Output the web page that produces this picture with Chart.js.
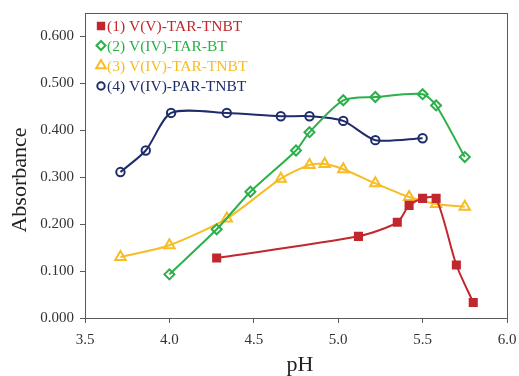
<!DOCTYPE html>
<html><head><meta charset="utf-8">
<script src="https://cdn.jsdelivr.net/npm/chart.js@4/dist/chart.umd.min.js"></script>
<style>html,body{margin:0;padding:0;background:#fff}#wrap{width:519px;height:376px}</style>
</head><body><div id="wrap"><canvas id="c" width="519" height="376"></canvas></div>
<script>
const seriesNames = ['(1) V(V)-TAR-TNBT','(2) V(IV)-TAR-BT','(3) V(IV)-TAR-TNBT','(4) V(IV)-PAR-TNBT'];
const s1pH  = [4.28, 5.12, 5.35, 5.42, 5.50, 5.58, 5.70, 5.80];
const s1Abs = [0.128, 0.174, 0.204, 0.240, 0.255, 0.255, 0.113, 0.033];
const s2pH  = [4.00, 4.28, 4.48, 4.75, 4.83, 5.03, 5.22, 5.50, 5.58, 5.75];
const s2Abs = [0.093, 0.189, 0.269, 0.357, 0.396, 0.464, 0.471, 0.477, 0.453, 0.343];
const s3pH  = [3.71, 4.00, 4.34, 4.66, 4.83, 4.92, 5.03, 5.22, 5.42, 5.58, 5.75];
const s3Abs = [0.130, 0.155, 0.212, 0.297, 0.326, 0.328, 0.317, 0.287, 0.258, 0.243, 0.237];
const s4pH  = [3.71, 3.86, 4.01, 4.34, 4.66, 4.83, 5.03, 5.22, 5.50];
const s4Abs = [0.311, 0.357, 0.437, 0.437, 0.430, 0.430, 0.420, 0.379, 0.383];
const yTicks = [0, 0.1, 0.2, 0.3, 0.4, 0.5, 0.6];
const xTicks = [3.5, 4.0, 4.5, 5.0, 5.5, 6.0];
const xTitle = 'pH';
const yTitle = 'Absorbance';

const colors = ['#C1272D', '#2BB04A', '#F8BC24', '#1E2C6A'];
const styles = ['rect', 'rectRot', 'triangle', 'circle'];
const radii = [5, 5, 6, 4.2];
const fills = [true, false, false, false];
const xs = [s1pH, s2pH, s3pH, s4pH];
const ys = [s1Abs, s2Abs, s3Abs, s4Abs];

const datasets = seriesNames.map((n, i) => ({
  label: n,
  data: xs[i].map((x, j) => ({x: x, y: ys[i][j]})),
  showLine: true,
  borderColor: colors[i],
  backgroundColor: fills[i] ? colors[i] : '#ffffff',
  pointBorderColor: colors[i],
  pointBackgroundColor: fills[i] ? colors[i] : 'rgba(255,255,255,0)',
  pointStyle: styles[i],
  pointRadius: radii[i],
  pointBorderWidth: 2,
  borderWidth: 2,
  tension: 0.25,
  cubicInterpolationMode: 'default'
}));

const serif = "'Liberation Serif', 'DejaVu Serif', serif";

const frame = {
  id: 'frame',
  afterDraw(chart) {
    const {ctx, chartArea: a} = chart;
    ctx.save();
    ctx.strokeStyle = '#5a5a5a';
    ctx.lineWidth = 1;
    ctx.strokeRect(a.left + 0.5, a.top + 0.5, a.right - a.left, a.bottom - a.top);
    // axis titles
    ctx.fillStyle = '#222';
    ctx.font = "22px " + serif;
    ctx.textAlign = 'center';
    ctx.textBaseline = 'alphabetic';
    ctx.fillText(xTitle, 300, 371);
    ctx.save();
    ctx.translate(26, 180);
    ctx.rotate(-Math.PI / 2);
    ctx.fillText(yTitle, 0, 0);
    ctx.restore();
    // legend
    const lx = 101, tx = 107, rows = [26, 45.5, 65.5, 86];
    ctx.font = "15.5px " + serif;
    ctx.textAlign = 'left';
    ctx.textBaseline = 'middle';
    chart.data.datasets.forEach((d, i) => {
      ctx.strokeStyle = colors[i];
      ctx.fillStyle = fills[i] ? colors[i] : '#ffffff';
      ctx.lineWidth = 2;
      Chart.helpers.drawPoint(ctx, {pointStyle: styles[i], radius: radii[i] - 0.5, borderWidth: 2}, lx, rows[i]);
      ctx.fillStyle = colors[i];
      ctx.fillText(d.label, tx, rows[i] + 1);
    });
    ctx.restore();
  }
};

new Chart(document.getElementById('c'), {
  type: 'scatter',
  data: {datasets},
  options: {
    responsive: false,
    animation: false,
    layout: {padding: {left: 0, right: 12, top: 13, bottom: 0}},
    plugins: {legend: {display: false}, tooltip: {enabled: false}},
    scales: {
      x: {
        type: 'linear', min: 3.5, max: 6.0,
        afterBuildTicks: s => { s.ticks = xTicks.map(v => ({value: v})); },
        afterFit: s => { s.height = 58; s.paddingRight = 0; s.paddingLeft = 0; },
        grid: {display: true, drawOnChartArea: false, drawTicks: true, tickLength: 5, color: '#5a5a5a'},
        border: {color: '#5a5a5a'},
        ticks: {font: {family: serif, size: 15}, color: '#333', padding: 8, callback: v => v.toFixed(1)},
        title: {display: false}
      },
      y: {
        type: 'linear', min: 0, max: 0.65,
        afterBuildTicks: s => { s.ticks = yTicks.map(v => ({value: v})); },
        afterFit: s => { s.width = 85; s.paddingTop = 0; s.paddingBottom = 0; },
        grid: {display: true, drawOnChartArea: false, drawTicks: true, tickLength: 5, color: '#5a5a5a'},
        border: {color: '#5a5a5a'},
        ticks: {font: {family: serif, size: 15}, color: '#333', padding: 6, callback: v => v.toFixed(3)},
        title: {display: false}
      }
    }
  },
  plugins: [frame]
});
</script></body></html>
